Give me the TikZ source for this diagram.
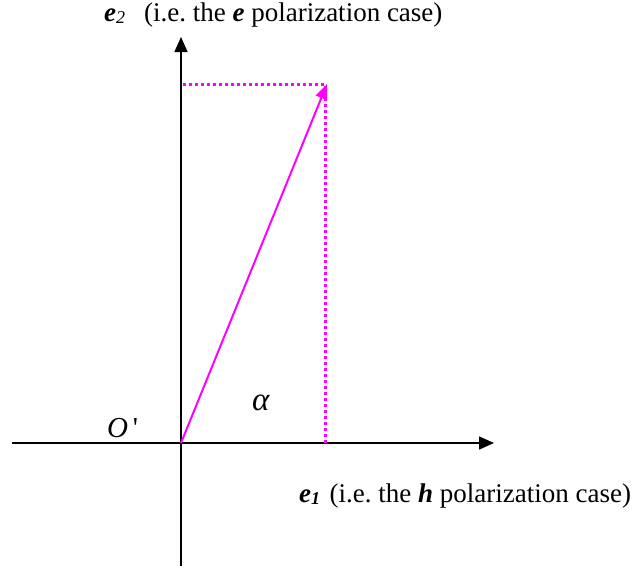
\documentclass[tikz,border=0pt]{standalone}
\usepackage{fontspec}
\setmainfont{Liberation Serif}
\usetikzlibrary{arrows.meta}
\definecolor{mag}{RGB}{255,0,255}
\begin{document}
\begin{tikzpicture}[x=1pt,y=-1pt,
  axis/.style={line width=1.6pt,-{Triangle[length=15pt,width=13pt]}},
  vec/.style={mag,line width=2pt,-{Triangle[length=15pt,width=12pt]}},
  dots/.style={mag,line width=3pt,dash pattern=on 3pt off 3pt},
  lbl/.style={font=\fontsize{27}{32}\selectfont,inner sep=0pt}]
\useasboundingbox (0,0) rectangle (635,570);
\coordinate (O) at (181,443);
\coordinate (ybot) at (181,566);
\coordinate (ytop) at (181,37);
\coordinate (xleft) at (12,443);
\coordinate (xright) at (494,443);
\coordinate (P) at (327,84);
\coordinate (Py) at (183,84);
\coordinate (Px) at (325,443);
\coordinate (Pc) at (325,84);
\draw[axis] (ybot) -- (ytop);
\draw[axis] (xleft) -- (xright);
\draw[dots] (Py) -- (Pc) -- (Px);
\draw[vec] (O) -- (P);
\node[lbl,anchor=base west] (e2) at (104,21) {\textbf{\textit{e}}\raisebox{-0.2ex}{\fontsize{18}{20}\selectfont\textit{2}}\hspace{0.7em}(i.e.\ the \textbf{\textit{e}} polarization case)};
\node[lbl,anchor=base west] (e1) at (299,502) {\textbf{\textit{e}}\raisebox{-0.2ex}{\fontsize{18}{20}\selectfont\textbf{\textit{1}}}\hspace{0.35em}(i.e.\ the \textbf{\textit{h}} polarization case)};
\node[lbl,anchor=base west,font=\fontsize{29}{34}\selectfont] (Ol) at (107,437) {\textit{O}\,\textquotesingle};
\node[lbl,anchor=base west,font=\fontsize{33}{38}\selectfont] (al) at (252,410) {\textit{α}};
\end{tikzpicture}
\end{document}
